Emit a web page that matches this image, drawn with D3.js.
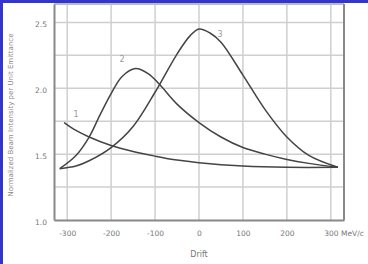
<!DOCTYPE html>
<html><head><meta charset="utf-8">
<script src="https://cdn.jsdelivr.net/npm/d3@7"></script>
<style>html,body{margin:0;padding:0;background:#fff;}svg{display:block;}</style>
</head><body>
<script>
const xTicks = [-300, -200, -100, 0, 100, 200, 300];
const xTickLabels = ["-300", "-200", "-100", "0", "100", "200", "300 MeV/c"];
const yTicks = [1.0, 1.5, 2.0, 2.5];
const yTickLabels = ["1.0", "1.5", "2.0", "2.5"];
const yGrid = [1.25, 1.5, 1.75, 2.0, 2.25, 2.5];
const curve1X = [-307, -280, -250, -200, -150, -100, -50, 0, 100, 200, 316];
const curve1Y = [1.74, 1.68, 1.63, 1.565, 1.52, 1.485, 1.455, 1.435, 1.41, 1.40, 1.40];
const curve2X = [-317, -280, -250, -225, -200, -175, -145, -115, -90, -50, 0, 50, 100, 150, 200, 250, 316];
const curve2Y = [1.39, 1.49, 1.63, 1.80, 1.96, 2.09, 2.15, 2.11, 2.03, 1.88, 1.74, 1.63, 1.55, 1.50, 1.46, 1.43, 1.40];
const curve3X = [-317, -280, -250, -200, -150, -100, -50, -20, 0, 25, 50, 100, 150, 200, 250, 316];
const curve3Y = [1.39, 1.41, 1.45, 1.55, 1.71, 1.97, 2.26, 2.40, 2.45, 2.42, 2.35, 2.10, 1.84, 1.63, 1.49, 1.40];
const curveLabels = ["1", "2", "3"];
const labelX = [-280, -175, 48];
const labelY = [1.78, 2.20, 2.39];
const xTitle = "Drift";
const yTitle = "Normalized Beam Intensity per Unit Emittance";

const W = 368, H = 264;
const svg = d3.select("body").append("svg").attr("width", W).attr("height", H);
svg.append("rect").attr("width", W).attr("height", H).attr("fill", "#fff");
svg.append("rect").attr("x", 0).attr("y", 0).attr("width", 3).attr("height", H).attr("fill", "#3434d0");
svg.append("rect").attr("x", 0).attr("y", 0).attr("width", W).attr("height", 3).attr("fill", "#3434d0");

const x = d3.scaleLinear().domain([-330, 330]).range([54, 344]);
const y = d3.scaleLinear().domain([1.0, 2.64]).range([220, 4]);

// grid
const g = svg.append("g");
g.selectAll(".vg").data(xTicks).join("line")
  .attr("x1", d => x(d)).attr("x2", d => x(d)).attr("y1", y.range()[1]).attr("y2", y.range()[0])
  .attr("stroke", "#cfcfcf").attr("stroke-width", 1.5);
g.selectAll(".hg").data(yGrid).join("line")
  .attr("x1", x.range()[0]).attr("x2", x.range()[1]).attr("y1", d => y(d)).attr("y2", d => y(d))
  .attr("stroke", "#cfcfcf").attr("stroke-width", 1.5);

// frame
svg.append("line").attr("x1", x.range()[0]).attr("x2", x.range()[1]).attr("y1", y.range()[1]).attr("y2", y.range()[1]).attr("stroke", "#bbb").attr("stroke-width", 2);
svg.append("line").attr("x1", x.range()[1]).attr("x2", x.range()[1]).attr("y1", y.range()[1]).attr("y2", y.range()[0]).attr("stroke", "#888").attr("stroke-width", 2);

// axes
const xAxis = d3.axisBottom(x).tickValues(xTicks).tickFormat((d, i) => xTickLabels[i]).tickSize(0).tickPadding(11);
const xa = svg.append("g").attr("transform", `translate(0,${y.range()[0]})`).call(xAxis);
xa.select(".domain").attr("stroke", "#888").attr("stroke-width", 2);
xa.selectAll("text").attr("fill", "#777").attr("font-size", 7.5).attr("font-family", "DejaVu Sans, sans-serif")
  .attr("text-anchor", (d, i) => i === xTicks.length - 1 ? "start" : "middle")
  .attr("dx", (d, i) => i === xTicks.length - 1 ? -7 : 0);

const yAxis = d3.axisLeft(y).tickValues(yTicks).tickFormat((d, i) => yTickLabels[i]).tickSize(0).tickPadding(7);
const ya = svg.append("g").attr("transform", `translate(${x.range()[0]},0)`).call(yAxis);
ya.select(".domain").attr("stroke", "#888").attr("stroke-width", 2);
ya.selectAll("text").attr("fill", "#777").attr("font-size", 7.5).attr("font-family", "DejaVu Sans, sans-serif").attr("dy", "0.6em");

// titles
svg.append("text").attr("x", x(0)).attr("y", 257).attr("text-anchor", "middle")
  .attr("fill", "#777").attr("font-size", 8).attr("font-family", "DejaVu Sans, sans-serif").text(xTitle);
svg.append("text").attr("transform", `translate(13,${(y.range()[0] + y.range()[1]) / 2 + 3}) rotate(-90)`)
  .attr("text-anchor", "middle").attr("fill", "#888").attr("font-size", 7).attr("font-family", "DejaVu Sans, sans-serif").text(yTitle);

// curves
const line = d3.line().x(d => x(d[0])).y(d => y(d[1])).curve(d3.curveCatmullRom.alpha(0.5));
const series = [[curve1X, curve1Y], [curve2X, curve2Y], [curve3X, curve3Y]];
series.forEach(([xs, ys]) => {
  svg.append("path").datum(xs.map((v, i) => [v, ys[i]]))
    .attr("d", line).attr("fill", "none").attr("stroke", "#444").attr("stroke-width", 1.5);
});

svg.selectAll(".cl").data(curveLabels).join("text")
  .attr("x", (d, i) => x(labelX[i])).attr("y", (d, i) => y(labelY[i]))
  .attr("text-anchor", "middle").attr("fill", "#999").attr("font-size", 8).attr("font-family", "DejaVu Sans, sans-serif")
  .text(d => d);
</script>
</body></html>
